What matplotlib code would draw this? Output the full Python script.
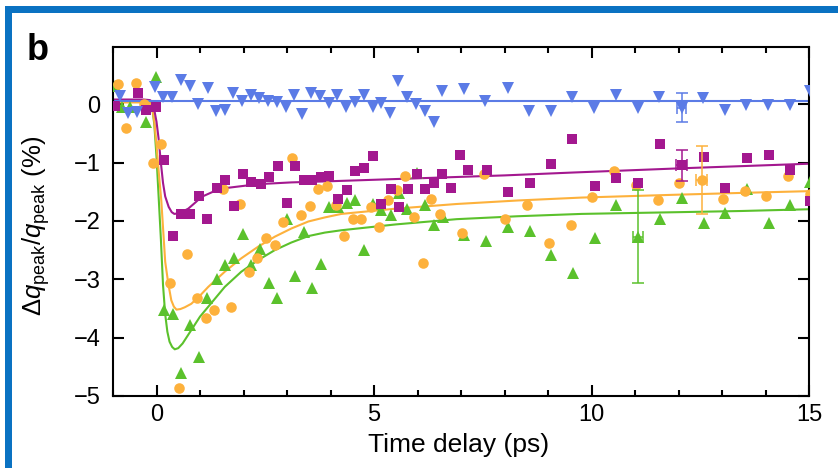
import matplotlib
matplotlib.use("Agg")
import matplotlib.pyplot as plt
from matplotlib.patches import Rectangle
from matplotlib.ticker import MultipleLocator

plt.rcParams['font.family'] = ['Liberation Sans', 'DejaVu Sans']
plt.rcParams['mathtext.fontset'] = 'custom'
plt.rcParams['mathtext.rm'] = 'Liberation Sans'
plt.rcParams['mathtext.it'] = 'Liberation Sans:italic'

# ---------------- data ----------------
blue_x = [-0.84, -0.65, -0.44, -0.04, 0.15, 0.36, 0.56, 0.77, 0.96, 1.18, 1.36, 1.57, 1.76, 1.97,
          2.17, 2.36, 2.57, 2.76, 2.97, 3.16, 3.35, 3.56, 3.76, 3.96, 4.16, 4.35, 4.56, 4.77, 4.97,
          5.17, 5.36, 5.56, 5.77, 5.96, 6.17, 6.37, 6.57, 7.07, 7.56, 8.07, 8.57, 9.06, 9.56,
          10.06, 10.56, 11.06, 11.56, 12.57, 13.07, 13.56, 14.06, 14.56, 15.02]
blue_y = [0.14, -0.15, -0.13, 0.29, 0.13, 0.13, 0.42, 0.31, 0.0, 0.28, -0.11, -0.10, 0.20, 0.06,
          0.16, 0.10, 0.06, 0.04, -0.04, 0.16, -0.17, 0.19, 0.14, 0.02, 0.16, -0.04, 0.04, 0.16, -0.04,
          0.02, -0.15, 0.39, 0.13, 0.0, -0.12, -0.30, 0.23, 0.26, 0.06, 0.27, -0.12, -0.12, 0.13,
          -0.07, 0.16, -0.07, 0.13, 0.10, -0.10, -0.01, -0.01, -0.01, 0.22]

mag_x = [-0.96, -0.42, -0.23, -0.02, 0.17, 0.38, 0.57, 0.78, 0.97, 1.17, 1.38, 1.57, 1.78, 1.98,
         2.17, 2.40, 2.59, 2.80, 2.99, 3.18, 3.39, 3.58, 3.78, 3.97, 4.18, 4.37, 4.56, 4.77, 4.98,
         5.17, 5.38, 5.58, 5.79, 5.98, 6.18, 6.38, 6.57, 6.77, 6.97, 7.17, 7.59, 8.07, 8.58, 9.08, 9.56,
         10.08, 10.57, 11.07, 11.57, 12.59, 13.07, 13.58, 14.08, 14.57, 15.02]
mag_y = [-0.03, 0.19, -0.10, -0.04, -0.95, -2.26, -1.88, -1.88, -1.57, -1.96, -1.43, -1.30, -1.74, -1.20,
         -1.33, -1.37, -1.24, -1.06, -1.69, -1.06, -1.30, -1.30, -1.24, -1.23, -1.63, -1.47, -1.14, -1.10, -0.89,
         -1.71, -1.45, -1.77, -1.45, -1.19, -1.45, -1.35, -1.19, -1.43, -0.87, -1.12, -1.12, -1.50, -1.35, -1.03, -0.59,
         -1.41, -1.27, -1.35, -0.69, -0.90, -1.43, -0.93, -0.87, -1.12, -1.66]

org_x = [-0.88, -0.69, -0.48, -0.28, -0.08, 0.11, 0.32, 0.52, 0.71, 0.92, 1.13, 1.33, 1.52, 1.72, 1.92,
         2.12, 2.31, 2.51, 2.72, 2.91, 3.12, 3.32, 3.52, 3.72, 3.92, 4.12, 4.31, 4.52, 4.71, 4.92,
         5.12, 5.33, 5.52, 5.72, 5.92, 6.12, 6.32, 6.52, 7.03, 7.52, 8.02, 8.52, 9.02, 9.52,
         10.02, 10.52, 11.02, 11.52, 12.02, 13.03, 13.52, 14.02, 14.52, 15.02]
org_y = [0.34, -0.41, 0.36, 0.0, -1.01, -0.69, -3.07, -4.86, -2.57, -3.32, -3.66, -3.53, -1.46, -3.48, -1.71,
         -2.87, -2.64, -2.29, -2.42, -2.02, -0.93, -1.90, -1.75, -1.46, -1.41, -1.73, -2.26, -1.96, -1.96, -1.77,
         -2.11, -1.65, -1.47, -1.23, -1.93, -2.72, -1.63, -1.88, -2.21, -1.20, -1.96, -1.72, -2.38, -2.07,
         -1.59, -1.14, -1.39, -1.65, -1.35, -1.63, -1.49, -1.57, -1.23, -1.54]

grn_x = [-0.95, -0.80, -0.61, -0.23, -0.02, 0.18, 0.38, 0.57, 0.78, 0.97, 1.17, 1.38, 1.57, 1.78, 1.98,
         2.18, 2.38, 2.58, 2.78, 2.99, 3.18, 3.39, 3.58, 3.78, 3.97, 4.18, 4.37, 4.57, 4.77, 4.98,
         5.17, 5.38, 5.57, 5.77, 5.98, 6.18, 6.38, 6.59, 7.07, 7.57, 8.07, 8.58, 9.08, 9.58,
         10.08, 10.57, 11.57, 12.08, 12.59, 13.08, 13.58, 14.08, 14.57, 15.02]
grn_y = [0.32, -0.05, -0.05, -0.30, 0.47, -3.53, -3.59, -4.61, -3.79, -4.33, -3.32, -3.00, -2.76, -2.63, -2.23,
         -2.75, -2.48, -3.07, -3.32, -1.96, -2.94, -2.19, -3.15, -2.73, -1.77, -1.76, -1.69, -1.65, -2.49, -1.71,
         -1.81, -1.90, -1.52, -1.79, -1.18, -1.73, -2.07, -1.93, -2.24, -2.35, -2.11, -2.17, -2.59, -2.89,
         -2.29, -1.73, -1.97, -1.60, -2.03, -1.87, -1.46, -2.03, -1.73, -1.33]

# representative points with error bars: x, y, xerr, yerr
blue_err = (12.07, -0.06, 0.11, 0.25)
mag_err = (12.07, -1.05, 0.13, 0.27)
org_err = (12.53, -1.30, 0.12, 0.59)
grn_err = (11.07, -2.27, 0.115, 0.80)

# fitted curves
fit_blue_x = [-1.0, 15.0]
fit_blue_y = [0.06, 0.06]
fit_mag_x = [-1.0, -0.3, -0.15, -0.1, -0.05, 0.0, 0.05, 0.1, 0.15, 0.2, 0.28, 0.35, 0.41, 0.5, 0.6, 0.73,
             0.9, 1.03, 1.3, 1.56, 2.0, 2.34, 3.1, 4.0, 6.0, 8.0, 9.6, 12.0, 15.0]
fit_mag_y = [0.08, 0.08, 0.07, 0.04, -0.1, -0.3, -0.6, -1.0, -1.35, -1.58, -1.76, -1.85, -1.88, -1.87, -1.84, -1.79,
             -1.68, -1.59, -1.50, -1.44, -1.40, -1.37, -1.34, -1.32, -1.27, -1.22, -1.17, -1.10, -1.02]
fit_org_x = [-1.0, -0.3, -0.15, -0.1, -0.05, 0.0, 0.05, 0.11, 0.2, 0.27, 0.34, 0.4, 0.46, 0.55, 0.65, 0.8,
             1.0, 1.19, 1.57, 1.95, 2.34, 2.72, 3.1, 3.49, 3.87, 4.25, 5.5, 6.9, 8.3, 9.77, 12.0, 13.45, 15.0]
fit_org_y = [0.03, 0.03, 0.02, -0.05, -0.3, -0.7, -1.15, -1.65, -2.7, -3.07, -3.36, -3.47, -3.52, -3.51, -3.48, -3.42,
             -3.28, -3.13, -2.87, -2.64, -2.44, -2.27, -2.13, -2.01, -1.94, -1.88, -1.79, -1.71, -1.65, -1.60, -1.55, -1.52, -1.49]
fit_grn_x = [-1.0, -0.3, -0.15, -0.1, -0.05, 0.0, 0.05, 0.1, 0.15, 0.2, 0.25, 0.3, 0.36, 0.42, 0.5, 0.6, 0.8,
             1.0, 1.19, 1.57, 1.95, 2.34, 2.72, 3.1, 3.49, 3.87, 4.25, 5.5, 6.9, 8.3, 9.77, 12.0, 13.45, 15.0]
fit_grn_y = [0.04, 0.04, 0.03, -0.05, -0.35, -0.9, -1.6, -2.3, -3.1, -3.6, -3.9, -4.07, -4.16, -4.2, -4.18, -4.1, -3.87,
             -3.64, -3.47, -3.13, -2.87, -2.67, -2.5, -2.37, -2.26, -2.2, -2.16, -2.06, -1.97, -1.92, -1.88, -1.85, -1.83, -1.80]

x_ticks = [0, 5, 10, 15]
y_ticks = [-5, -4, -3, -2, -1, 0]

C_BLUE = '#5b7be6'
C_MAG = '#a3188f'
C_ORG = '#fdb13c'
C_GRN = '#5bc12c'

# ---------------- figure ----------------
fig = plt.figure(figsize=(8.38, 4.68), dpi=100)
ax = fig.add_axes([113 / 838, 1 - 396 / 468, 696 / 838, 349 / 468])

# blue frame
fig.add_artist(Rectangle((5 / 838, 0), 6.7 / 838, (468 - 6) / 468, transform=fig.transFigure,
                         facecolor='#0a72c2', edgecolor='none'))
fig.add_artist(Rectangle((5 / 838, 1 - 12.7 / 468), 1, 6.7 / 468, transform=fig.transFigure,
                         facecolor='#0a72c2', edgecolor='none'))

lw = 1.5
ax.plot(fit_grn_x, fit_grn_y, color=C_GRN, lw=lw, zorder=2)
ax.plot(fit_org_x, fit_org_y, color=C_ORG, lw=lw, zorder=2)
ax.plot(fit_mag_x, fit_mag_y, color=C_MAG, lw=lw, zorder=2)
ax.plot(fit_blue_x, fit_blue_y, color=C_BLUE, lw=lw, zorder=2)

MS_T, MS_O, MS_S = 9.0, 7.6, 6.8
ax.plot(grn_x, grn_y, '^', color=C_GRN, ms=MS_T, mew=0, zorder=3)
ax.plot(org_x, org_y, 'o', color=C_ORG, ms=MS_O, mew=0, zorder=3)
ax.plot(mag_x, mag_y, 's', color=C_MAG, ms=MS_S, mew=0, zorder=3)
ax.plot(blue_x, blue_y, 'v', color=C_BLUE, ms=MS_T, mew=0, zorder=3)

for (ex, ey, exe, eye), c, m, ms in [(grn_err, C_GRN, '^', MS_T), (org_err, C_ORG, 'o', MS_O),
                                      (mag_err, C_MAG, 's', MS_S), (blue_err, C_BLUE, 'v', MS_T)]:
    ax.errorbar([ex], [ey], xerr=[exe], yerr=[eye], fmt='none', ecolor=c,
                elinewidth=1.1, capsize=4.5, capthick=1.1, zorder=4)
    ax.plot([ex], [ey], m, color=c, ms=ms, mew=0, zorder=4)

ax.set_xlim(-1, 15)
ax.set_ylim(-5, 0.98)
ax.set_xticks(x_ticks)
ax.set_yticks(y_ticks)
ax.xaxis.set_minor_locator(MultipleLocator(1))
ax.tick_params(which='both', direction='in', top=True, right=True, width=1.5, labelsize=17, colors='black')
ax.tick_params(which='major', length=8)
ax.tick_params(which='minor', length=4.5)
ax.tick_params(axis='x', pad=6)
ax.tick_params(axis='y', pad=9)
for s in ax.spines.values():
    s.set_linewidth(1.5)

fig.text(36 / 838, 1 - 226 / 468, r'$\Delta q_{\mathrm{peak}}/q_{\mathrm{peak}}$ (%)', rotation=90,
         ha='center', va='center', fontsize=18.5)
fig.text(459 / 838, 1 - 445 / 468, 'Time delay (ps)', ha='center', va='center', fontsize=19)
fig.text(38 / 838, 1 - 50 / 468, 'b', ha='center', va='center', fontsize=26, fontweight='bold')

fig.savefig('out.png', dpi=100)
